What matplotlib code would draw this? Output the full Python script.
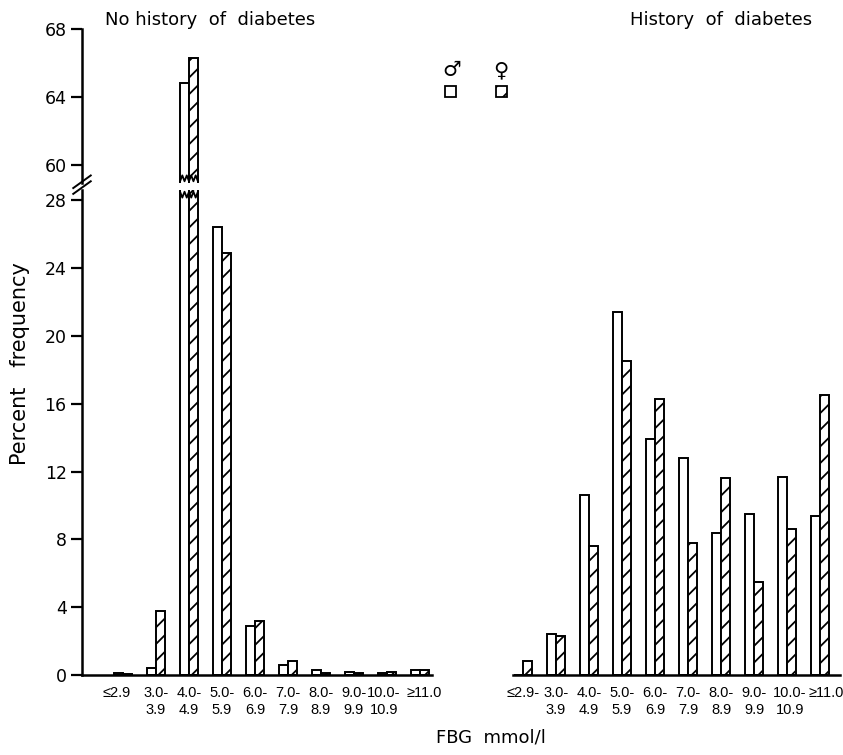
import numpy as np
import matplotlib
matplotlib.use("Agg")
import matplotlib.pyplot as plt
import matplotlib.transforms as mtransforms
from matplotlib.patches import Rectangle

plt.rcParams['font.family'] = ['DejaVu Sans']
plt.rcParams['hatch.linewidth'] = 1.3

# FBG classes (mmol/l)
labels_left = ["≤2.9", "3.0-\n3.9", "4.0-\n4.9", "5.0-\n5.9", "6.0-\n6.9",
               "7.0-\n7.9", "8.0-\n8.9", "9.0-\n9.9", "10.0-\n10.9", "≥11.0"]
labels_right = ["≤2.9-", "3.0-\n3.9", "4.0-\n4.9", "5.0-\n5.9", "6.0-\n6.9",
                "7.0-\n7.9", "8.0-\n8.9", "9.0-\n9.9", "10.0-\n10.9", "≥11.0"]

# percent frequency, no history of diabetes
nohist_male = [0.1, 0.4, 64.8, 26.4, 2.9, 0.6, 0.3, 0.15, 0.1, 0.3]
nohist_female = [0.05, 3.8, 66.3, 24.9, 3.2, 0.8, 0.1, 0.1, 0.2, 0.3]
# percent frequency, history of diabetes
hist_male = [0.0, 2.4, 10.6, 21.4, 13.9, 12.8, 8.4, 9.5, 11.7, 9.4]
hist_female = [0.8, 2.3, 7.6, 18.5, 16.3, 7.8, 11.6, 5.5, 8.6, 16.5]

W, H = 843, 755
fig = plt.figure(figsize=(W / 100, H / 100), dpi=100)

def fbox(x0, y0, x1, y1):
    # pixel box (top-left origin) -> figure fraction
    return [x0 / W, 1 - y1 / H, (x1 - x0) / W, (y1 - y0) / H]

ax_top = fig.add_axes(fbox(82, 29, 432, 183))
ax_bot = fig.add_axes(fbox(82, 190, 432, 675))
ax_r = fig.add_axes(fbox(513, 190, 840, 675))

x = np.arange(len(labels_left))
bw = 0.27
lw = 1.4

def draw_bars(ax, male, female):
    ax.bar(x - bw / 2, male, bw, facecolor='white', edgecolor='black', linewidth=lw)
    ax.bar(x + bw / 2, female, bw, facecolor='white', edgecolor='black',
           linewidth=lw, hatch='//')

for ax in (ax_top, ax_bot):
    draw_bars(ax, nohist_male, nohist_female)
    ax.set_xlim(-1.242, 9.364)
draw_bars(ax_r, hist_male, hist_female)
ax_r.set_xlim(-0.303, 9.606)

ax_top.set_ylim(58.92, 68)
ax_bot.set_ylim(0, 28.6)
ax_r.set_ylim(0, 28.6)

ax_top.set_yticks([60, 64, 68])
ax_bot.set_yticks(np.arange(0, 29, 4))

tick_font = ['Liberation Sans', 'DejaVu Sans']
for ax in (ax_top, ax_bot, ax_r):
    for s in ('top', 'right'):
        ax.spines[s].set_visible(False)
    ax.spines['left'].set_linewidth(1.8)
    ax.spines['bottom'].set_linewidth(1.8)
    ax.tick_params(axis='y', direction='out', length=8, width=1.6,
                   labelsize=12.5, pad=3)
    ax.tick_params(axis='x', length=0, pad=8)
    ax.patch.set_visible(False)

ax_top.spines['bottom'].set_visible(False)
ax_top.set_xticks([])
ax_bot.set_xticks(x)
ax_bot.set_xticklabels(labels_left, linespacing=1.3, family=tick_font, fontsize=10.5)
ax_r.set_xticks(x)
ax_r.set_xticklabels(labels_right, linespacing=1.3, family=tick_font, fontsize=10.5)
ax_r.spines['left'].set_visible(False)
ax_r.set_yticks([])

# nudge the crowded end labels apart a little, as in the original
def nudge(ax, idx, dx_px):
    lab = ax.get_xticklabels()[idx]
    lab.set_transform(lab.get_transform() +
                      mtransforms.ScaledTranslation(dx_px / 100, 0, fig.dpi_scale_trans))

nudge(ax_bot, 0, -6)
nudge(ax_bot, 8, -3)
nudge(ax_bot, 9, 4)
nudge(ax_r, 8, 3)
nudge(ax_r, 9, 6)

# break marks on the axis
for dy in (-0.012, 0.0):
    ax_bot.plot([-0.025, 0.025], [1.0 + dy + 0.004, 1.0 + dy + 0.03],
                transform=ax_bot.transAxes, color='black', lw=1.4, clip_on=False)

# jagged cut on the broken bars
i_big = int(np.argmax(nohist_female))
zx = np.linspace(x[i_big] - bw, x[i_big] + bw, 9)
zy = np.array([0, 1, 0, 1, 0, 1, 0, 1, 0]) * 0.35
ax_top.plot(zx, ax_top.get_ylim()[0] + 0.1 + zy, color='black', lw=1.3, clip_on=False)
ax_bot.plot(zx, ax_bot.get_ylim()[1] - 0.1 - zy, color='black', lw=1.3, clip_on=False)

# titles and axis labels
fig.text(210 / W, 1 - 20 / H, "No history  of  diabetes", ha='center', va='center', fontsize=13)
fig.text(721 / W, 1 - 20 / H, "History  of  diabetes", ha='center', va='center', fontsize=13)
fig.text(20 / W, 1 - 364 / H, "Percent   frequency", rotation=90, ha='center',
         va='center', fontsize=15)
fig.text(491 / W, 1 - 738 / H, "FBG  mmol/l", ha='center', va='center', fontsize=13)

# key
fig.text(452 / W, 1 - 70 / H, "♂", ha='center', va='center', fontsize=15)
fig.text(501 / W, 1 - 70 / H, "♀", ha='center', va='center', fontsize=15)
fig.patches.append(Rectangle((445 / W, 1 - 97 / H), 11 / W, 11 / H, transform=fig.transFigure,
                             facecolor='white', edgecolor='black', lw=1.3))
fig.patches.append(Rectangle((496 / W, 1 - 97 / H), 11 / W, 11 / H, transform=fig.transFigure,
                             facecolor='white', edgecolor='black', lw=1.3, hatch='//'))

fig.savefig("out.png", dpi=100)
